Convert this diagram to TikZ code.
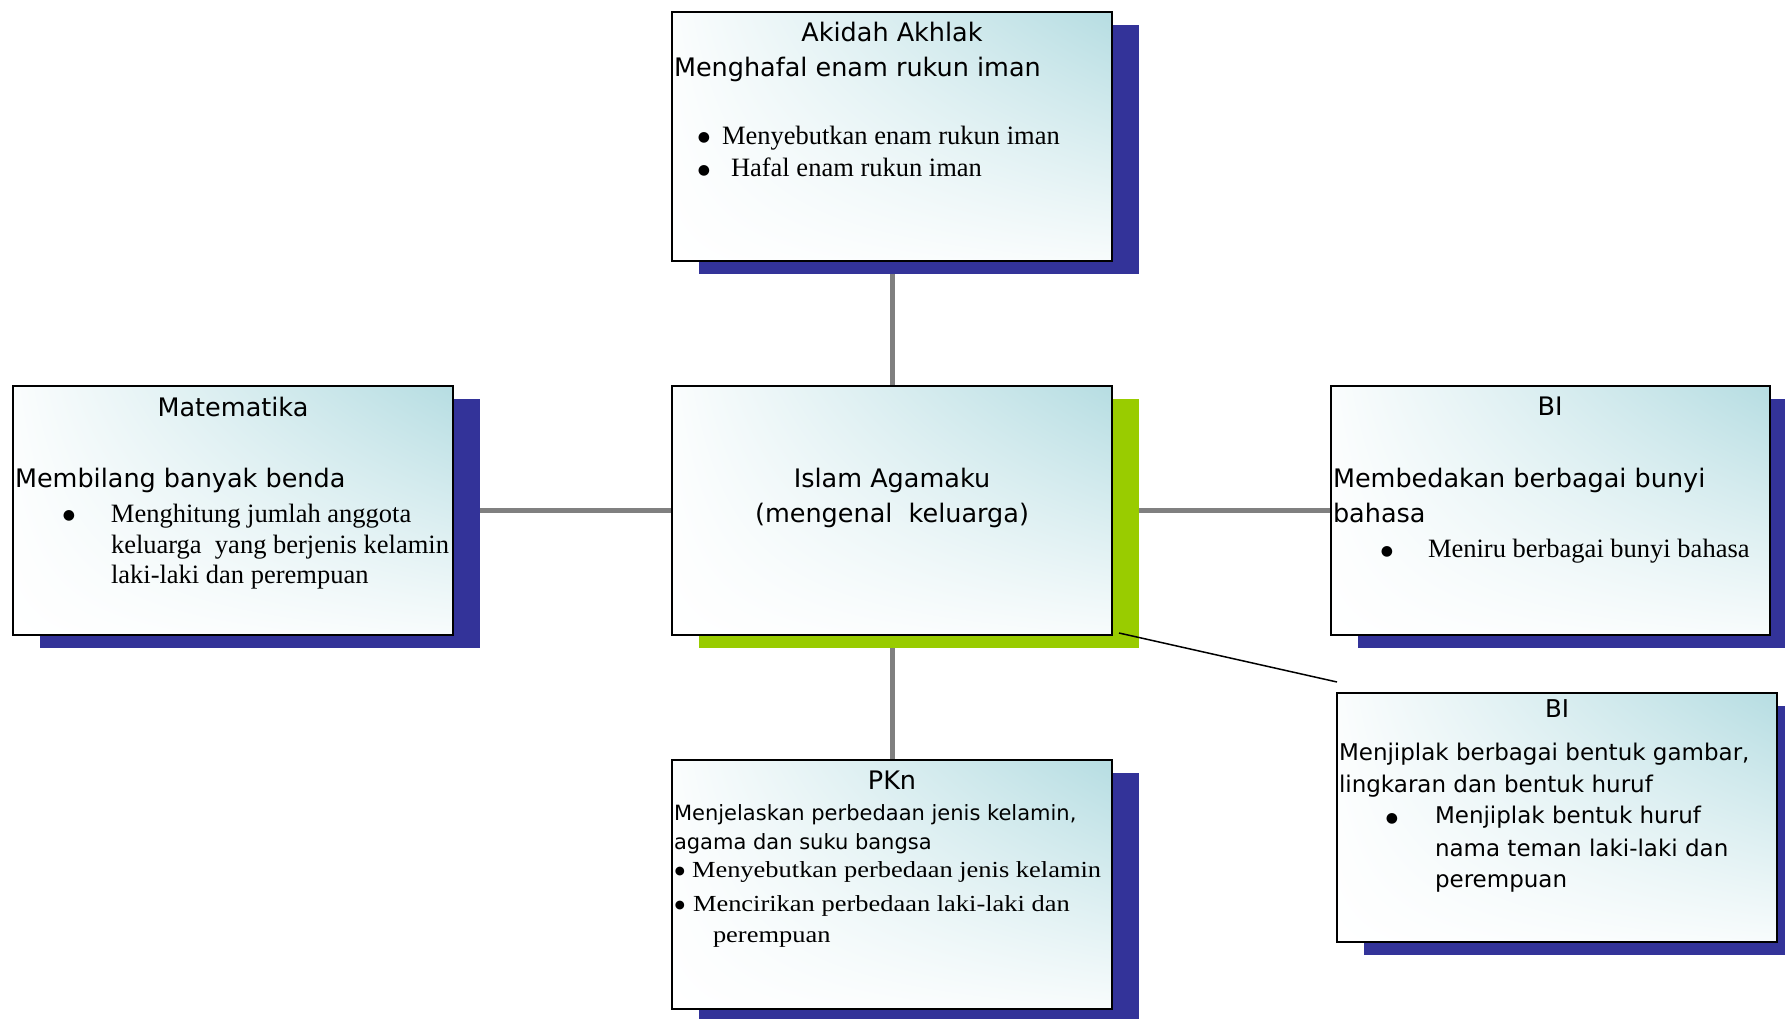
\documentclass[tikz,border=0pt]{standalone}
\usepackage{fontspec}
\setmainfont{Liberation Serif}
\newfontfamily\sansf{DejaVu Sans}
\newfontfamily\widetimes[FakeStretch=1.15]{Liberation Serif}
\usetikzlibrary{shadings,shadows,backgrounds,calc}
\definecolor{tealc}{RGB}{182,221,226}
\definecolor{shblue}{RGB}{51,51,153}
\definecolor{shgreen}{RGB}{153,204,0}
\definecolor{connc}{RGB}{128,128,128}
% bullet in a box of given width, raised by given amount, at given size
\newcommand{\bulbox}[3]{\makebox[#1][c]{\raisebox{#2}{\sansf\fontsize{#3}{#3}\selectfont ●}}}
\begin{document}
\begin{tikzpicture}[x=1pt,y=-1pt,
  box/.style={draw=black, line width=2pt, minimum width=440pt, minimum height=249pt,
    inner sep=0pt, shade, lower left=white, upper left=tealc!6, upper right=tealc, lower right=tealc!10},
  blueshadow/.style={general shadow={fill=shblue, shadow xshift=27pt, shadow yshift=-13pt}},
  greenshadow/.style={general shadow={fill=shgreen, shadow xshift=27pt, shadow yshift=-13pt}},
  txt/.style={inner sep=0pt, outer sep=0pt, text=black},
  sanstxt/.style={txt, font=\sansf\fontsize{25.5}{30}\selectfont},
  smallsans/.style={txt, font=\sansf\fontsize{21}{25}\selectfont},
  bisans/.style={txt, font=\sansf\fontsize{23}{27}\selectfont},
  seriftxt/.style={txt, font=\fontsize{26.5}{30}\selectfont},
  widetxt/.style={txt, font=\widetimes\fontsize{23}{27}\selectfont},
  conn/.style={draw=connc, line width=5pt},
  thinconn/.style={draw=black, line width=1.5pt}
]
\useasboundingbox (0,0) rectangle (1785,1019);
\clip (0,0) rectangle (1785,1019);

% boxes
\node[box, blueshadow] (akidah) at (892,136.5) {};
\node[box, blueshadow] (mat) at (233,510) {};
\node[box, greenshadow] (c) at (892,510) {};
\node[box, blueshadow, minimum width=439pt] (bi1) at (1550.5,510) {};
\node[box, blueshadow] (pkn) at (892,884) {};
\node[box, blueshadow] (bi2) at (1557,817.5) {};

% connectors
\begin{scope}[on background layer]
\draw[conn] (c.center) -- (akidah.center);
\draw[conn] (c.center) -- (mat.center);
\draw[conn] (c.center) -- (bi1.center);
\draw[conn] (c.center) -- (pkn.center);
\end{scope}
\draw[thinconn] ($(c.south east)+(6,-2.5)$) -- ($(bi2.north west)+(1,-10)$);

% Akidah Akhlak
\node[sanstxt, anchor=base] (a1) at (892,42) {Akidah Akhlak};
\node[sanstxt, anchor=base west] (a2) at (674,77) {Menghafal enam rukun iman};
\node[seriftxt, anchor=base west] (a3) at (686,145) {\bulbox{36pt}{3pt}{14}Menyebutkan enam rukun iman};
\node[seriftxt, anchor=base west] (a4) at (677,177) {\bulbox{54pt}{2pt}{14}Hafal enam rukun iman};

% Matematika
\node[sanstxt, anchor=base] (m1) at (233,416) {Matematika};
\node[sanstxt, anchor=base west] (m2) at (15,487) {Membilang banyak benda};
\node[seriftxt, anchor=base west] (m3) at (27,522) {\bulbox{84pt}{3pt}{14}Menghitung jumlah anggota};
\node[seriftxt, anchor=base west] (m4) at (111,553) {keluarga\ \ yang berjenis kelamin};
\node[seriftxt, anchor=base west] (m5) at (111,583) {laki-laki dan perempuan};

% Center
\node[sanstxt, anchor=base] (c1) at (892,487) {Islam Agamaku};
\node[sanstxt, anchor=base] (c2) at (892,522) {(mengenal\ \ keluarga)};

% BI right
\node[sanstxt, anchor=base] (r1) at (1550,415) {BI};
\node[sanstxt, anchor=base west] (r2) at (1333,487) {Membedakan berbagai bunyi};
\node[sanstxt, anchor=base west] (r3) at (1333,522) {bahasa};
\node[seriftxt, anchor=base west] (r4) at (1346,557) {\bulbox{82pt}{2pt}{14}Meniru berbagai bunyi bahasa};

% PKn
\node[sanstxt, anchor=base] (p1) at (892,789) {PKn};
\node[smallsans, anchor=base west] (p2) at (674,820) {Menjelaskan perbedaan jenis kelamin,};
\node[smallsans, anchor=base west] (p3) at (674,849) {agama dan suku bangsa};
\node[widetxt, anchor=base west] (p4) at (668,877) {\bulbox{24pt}{2.5pt}{11.5}Menyebutkan perbedaan jenis kelamin};
\node[widetxt, anchor=base west] (p5) at (667,911) {\bulbox{26pt}{2.5pt}{11.5}Mencirikan perbedaan laki-laki dan};
\node[widetxt, anchor=base west] (p6) at (713,942) {perempuan};

% BI lower
\node[txt, anchor=base, font=\sansf\fontsize{24.5}{28}\selectfont] (l1) at (1557,717) {BI};
\node[bisans, anchor=base west] (l2) at (1339,760) {Menjiplak berbagai bentuk gambar,};
\node[bisans, anchor=base west] (l3) at (1339,792) {lingkaran dan bentuk huruf};
\node[bisans, anchor=base west] (l4) at (1349,823) {\bulbox{86pt}{1pt}{14}Menjiplak bentuk huruf};
\node[bisans, anchor=base west] (l5) at (1435,856) {nama teman laki-laki dan};
\node[bisans, anchor=base west] (l6) at (1435,887) {perempuan};
\end{tikzpicture}
\end{document}
